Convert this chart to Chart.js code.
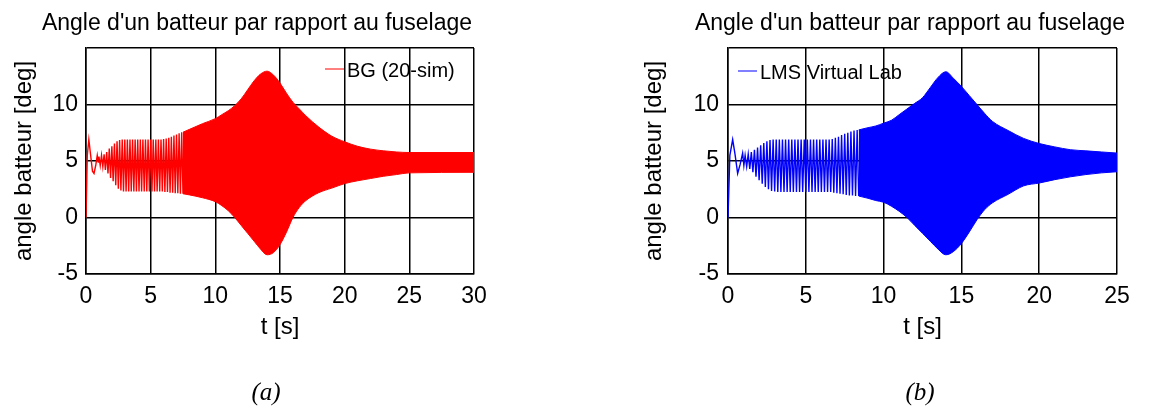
<!DOCTYPE html>
<html lang="fr">
<head>
<meta charset="UTF-8">
<title>Angle d'un batteur par rapport au fuselage</title>
<script src="https://cdn.jsdelivr.net/npm/chart.js@4/dist/chart.umd.min.js"></script>
<style>
  body { margin: 0; background: #fff; }
  #page { position: relative; width: 1150px; height: 406px; }
  canvas { position: absolute; top: 0; }
</style>
</head>
<body>
<div id="page">
  <canvas id="grapheA" width="575" height="406" style="left:0"></canvas>
  <canvas id="grapheB" width="575" height="406" style="left:575px"></canvas>
</div>
<script>
// ---- (a) BG (20-sim) ----
// debut du signal (transitoire)
const transTA = [0, 0.1, 0.22, 0.35, 0.5, 0.62, 0.75, 0.87, 0.95];
const transVA = [0, 5.5, 6.9, 5.6, 4.1, 3.9, 4.6, 5.5, 4.9];
// oscillations visibles : sommets (t = 1.0, 1.2, ...) et creux (t = 1.1, 1.3, ...)
const hautsA = [5.4, 5.5, 5.6, 5.8, 6.1, 6.3, 6.55, 6.75, 6.85, 6.9, 6.9, 6.9, 6.9, 6.9, 6.9, 6.9, 6.9,
                6.9, 6.9, 6.9, 6.9, 6.9, 6.9, 6.9, 6.9, 6.95, 7.0, 7.05, 7.15, 7.25, 7.35, 7.45, 7.55];
const basA   = [4.6, 4.5, 4.2, 3.9, 3.5, 3.2, 2.85, 2.55, 2.4, 2.3, 2.3, 2.3, 2.3, 2.3, 2.3, 2.3, 2.3,
                2.3, 2.3, 2.3, 2.3, 2.3, 2.3, 2.3, 2.3, 2.25, 2.25, 2.2, 2.2, 2.15, 2.15, 2.1, 2.1];
// zone dense : enveloppe haute / basse
const envTA   = [7.5, 8, 9, 10, 10.5, 11, 11.5, 12, 12.5, 13, 13.5, 14, 14.5, 15, 15.5, 16, 16.5, 17,
                 18, 19, 20, 21, 22, 23, 24, 25, 30];
const envHautA = [7.55, 7.8, 8.3, 8.75, 9.1, 9.45, 9.9, 10.5, 11.3, 12.1, 12.7, 12.95, 12.6, 11.9, 11.0,
                  10.2, 9.6, 9.0, 8.0, 7.2, 6.7, 6.3, 6.05, 5.9, 5.8, 5.75, 5.75];
const envBasA  = [2.1, 2.0, 1.75, 1.4, 1.05, 0.6, 0.0, -0.7, -1.4, -2.1, -2.8, -3.3, -3.1, -2.4, -1.3,
                  0.0, 0.9, 1.5, 2.2, 2.6, 3.0, 3.25, 3.45, 3.65, 3.8, 3.95, 4.0];

// ---- (b) LMS Virtual Lab ----
const transTB = [0, 0.12, 0.3, 0.45, 0.62, 0.78, 0.94, 1.02];
const transVB = [0, 5.5, 6.9, 5.6, 3.9, 4.7, 5.7, 4.6];
// sommets (t = 1.1, 1.3, ...) et creux (t = 1.2, 1.4, ...)
const hautsB = [5.5, 5.6, 5.8, 6.0, 6.2, 6.4, 6.6, 6.75, 6.85, 6.9, 6.9, 6.9, 6.9, 6.9, 6.9, 6.9, 6.9,
                6.9, 6.9, 6.9, 6.9, 6.9, 6.9, 6.9, 6.9, 6.9, 6.9, 6.9, 6.95, 7.05, 7.15, 7.3, 7.4,
                7.5, 7.6, 7.7, 7.75];
const basB   = [4.5, 4.3, 4.0, 3.6, 3.3, 3.0, 2.7, 2.5, 2.35, 2.3, 2.25, 2.25, 2.25, 2.25, 2.25, 2.25,
                2.25, 2.25, 2.25, 2.25, 2.25, 2.25, 2.25, 2.25, 2.25, 2.25, 2.25, 2.25, 2.2, 2.15, 2.1,
                2.05, 2.0, 1.95, 1.95, 1.9, 1.9];
const envTB    = [8.4, 9, 9.5, 10, 10.5, 11, 11.5, 12, 12.5, 13, 13.5, 14, 14.5, 15, 15.5, 16, 16.5, 17,
                  18, 19, 20, 21, 22, 23, 24, 25];
const envHautB = [7.75, 7.95, 8.1, 8.35, 8.6, 9.1, 9.6, 10.1, 10.6, 11.5, 12.4, 12.9, 12.3, 11.6, 10.8,
                  10.0, 9.2, 8.5, 7.7, 7.0, 6.55, 6.25, 6.0, 5.9, 5.8, 5.7];
const envBasB  = [1.9, 1.7, 1.5, 1.35, 1.0, 0.55, 0.0, -0.7, -1.4, -2.1, -2.8, -3.3, -3.0, -2.3, -1.3,
                  -0.2, 0.7, 1.3, 2.05, 2.8, 3.05, 3.35, 3.6, 3.8, 3.95, 4.05];

const yTicks = [-5, 0, 5, 10];

Chart.defaults.font.family = "'Liberation Sans', Arial, sans-serif";
Chart.defaults.color = '#000';

// points du signal : transitoire puis alternance sommet / creux
function trace(transT, transV, debut, periode, hauts, bas) {
  const pts = transT.map((t, i) => ({x: t, y: transV[i]}));
  hauts.forEach((h, i) => {
    pts.push({x: debut + i * periode, y: h});
    pts.push({x: debut + i * periode + periode / 2, y: bas[i]});
  });
  return pts;
}
const points = (ts, vs) => ts.map((t, i) => ({x: t, y: vs[i]}));

// titre, legende et (a)/(b) dessines sur le canvas
const textes = {
  id: 'textes',
  afterDraw(chart, args, o) {
    const ctx = chart.ctx;
    ctx.save();
    ctx.fillStyle = '#000';
    ctx.textAlign = 'center';
    ctx.textBaseline = 'alphabetic';
    ctx.font = "23px 'Liberation Sans'";
    ctx.fillText(o.titre, o.titreX, 29.5);
    ctx.font = "italic 25px 'Liberation Serif'";
    ctx.fillText(o.sous, o.sousX, 400);
    ctx.strokeStyle = o.couleur;
    ctx.lineWidth = 1;
    ctx.beginPath();
    ctx.moveTo(o.legX, o.legY);
    ctx.lineTo(o.legX + 19, o.legY);
    ctx.stroke();
    ctx.font = "20px 'Liberation Sans'";
    ctx.textAlign = 'left';
    ctx.fillText(chart.data.datasets[0].label, o.legX + 22, o.legY + 8);
    ctx.restore();
  }
};

function graphe(id, nom, couleur, tMax, donnees, haut, bas, pad, yLarg, yTitrePad, yPad, txt) {
  const enveloppe = {borderColor: couleur, borderWidth: 1, pointRadius: 0, cubicInterpolationMode: 'monotone'};
  return new Chart(document.getElementById(id), {
    type: 'line',
    data: {
      datasets: [
        {label: nom, data: donnees, borderColor: couleur, borderWidth: 1.4, pointRadius: 0, fill: false},
        Object.assign({label: 'haut', data: haut, fill: false}, enveloppe),
        Object.assign({label: 'bas', data: bas, backgroundColor: couleur, fill: '-1'}, enveloppe)
      ]
    },
    options: {
      responsive: false,
      animation: false,
      devicePixelRatio: 1,
      layout: {padding: pad},
      plugins: {legend: {display: false}, tooltip: {enabled: false}, textes: txt},
      scales: {
        x: {
          type: 'linear', min: 0, max: tMax,
          ticks: {stepSize: 5, padding: 9, font: {size: 23}, maxRotation: 0},
          grid: {color: '#000', lineWidth: 1.5, drawTicks: false},
          border: {color: '#000', width: 1.5},
          title: {display: true, text: 't [s]', font: {size: 24}, padding: {top: 0, bottom: 2}},
          afterFit: s => { s.height = 70; }
        },
        y: {
          min: -5, max: 15,
          afterBuildTicks: s => { s.ticks = yTicks.concat([15]).map(v => ({value: v})); },
          ticks: {padding: yPad, font: {size: 23}, callback: v => (yTicks.includes(v) ? v : '')},
          grid: {color: '#000', lineWidth: 1.5, drawTicks: false},
          border: {color: '#000', width: 1.5},
          title: {display: true, text: 'angle batteur [deg]', font: {size: 24},
                  padding: {top: yTitrePad, bottom: 0}},
          afterFit: s => { s.width = yLarg; }
        }
      }
    },
    plugins: [textes]
  });
}

graphe('grapheA', 'BG (20-sim)', '#ff0000', 30,
  trace(transTA, transVA, 1.0, 0.2, hautsA, basA),
  points(envTA, envHautA), points(envTA, envBasA),
  {left: 0, top: 48, right: 101, bottom: 62}, 86, 9.6, 8,
  {titre: "Angle d'un batteur par rapport au fuselage", titreX: 257, sous: '(a)', sousX: 266,
   couleur: '#ff0000', legX: 325, legY: 69});

graphe('grapheB', 'LMS Virtual Lab', '#0000ff', 25,
  trace(transTB, transVB, 1.1, 0.2, hautsB, basB),
  points(envTB, envHautB), points(envTB, envBasB),
  {left: 0, top: 48, right: 33, bottom: 62}, 153, 65, 9,
  {titre: "Angle d'un batteur par rapport au fuselage", titreX: 335, sous: '(b)', sousX: 345,
   couleur: '#0000ff', legX: 163, legY: 71});
</script>
</body>
</html>
